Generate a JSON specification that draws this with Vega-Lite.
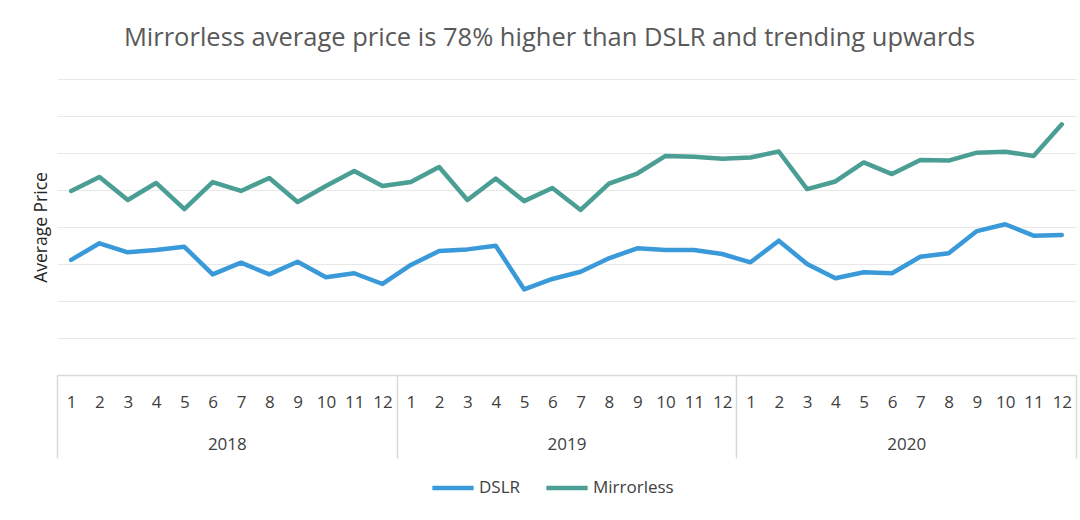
{
  "$schema": "https://vega.github.io/schema/vega-lite/v6.json",
  "width": 1019,
  "height": 296,
  "autosize": {"type": "none"},
  "padding": {"left": 57, "top": 79, "right": 4, "bottom": 145},
  "background": "white",
  "title": {
    "text": "Mirrorless average price is 78% higher than DSLR and trending upwards",
    "font": "Open Sans",
    "fontSize": 25.5,
    "fontWeight": "normal",
    "color": "#595959",
    "anchor": "middle",
    "dx": -17,
    "offset": 28
  },
  "config": {
    "view": {"stroke": null},
    "font": "Open Sans"
  },
  "data": {
    "values": [
      {"period": "2018-01", "year": "2018", "series": "DSLR", "price": 622},
      {"period": "2018-02", "year": "2018", "series": "DSLR", "price": 712},
      {"period": "2018-03", "year": "2018", "series": "DSLR", "price": 663},
      {"period": "2018-04", "year": "2018", "series": "DSLR", "price": 676},
      {"period": "2018-05", "year": "2018", "series": "DSLR", "price": 693},
      {"period": "2018-06", "year": "2018", "series": "DSLR", "price": 544},
      {"period": "2018-07", "year": "2018", "series": "DSLR", "price": 607},
      {"period": "2018-08", "year": "2018", "series": "DSLR", "price": 544},
      {"period": "2018-09", "year": "2018", "series": "DSLR", "price": 612},
      {"period": "2018-10", "year": "2018", "series": "DSLR", "price": 528},
      {"period": "2018-11", "year": "2018", "series": "DSLR", "price": 550},
      {"period": "2018-12", "year": "2018", "series": "DSLR", "price": 492},
      {"period": "2019-01", "year": "2019", "series": "DSLR", "price": 595},
      {"period": "2019-02", "year": "2019", "series": "DSLR", "price": 670},
      {"period": "2019-03", "year": "2019", "series": "DSLR", "price": 679},
      {"period": "2019-04", "year": "2019", "series": "DSLR", "price": 699},
      {"period": "2019-05", "year": "2019", "series": "DSLR", "price": 463},
      {"period": "2019-06", "year": "2019", "series": "DSLR", "price": 519},
      {"period": "2019-07", "year": "2019", "series": "DSLR", "price": 558},
      {"period": "2019-08", "year": "2019", "series": "DSLR", "price": 631},
      {"period": "2019-09", "year": "2019", "series": "DSLR", "price": 685},
      {"period": "2019-10", "year": "2019", "series": "DSLR", "price": 676},
      {"period": "2019-11", "year": "2019", "series": "DSLR", "price": 676},
      {"period": "2019-12", "year": "2019", "series": "DSLR", "price": 654},
      {"period": "2020-01", "year": "2020", "series": "DSLR", "price": 609},
      {"period": "2020-02", "year": "2020", "series": "DSLR", "price": 726},
      {"period": "2020-03", "year": "2020", "series": "DSLR", "price": 600},
      {"period": "2020-04", "year": "2020", "series": "DSLR", "price": 523},
      {"period": "2020-05", "year": "2020", "series": "DSLR", "price": 555},
      {"period": "2020-06", "year": "2020", "series": "DSLR", "price": 550},
      {"period": "2020-07", "year": "2020", "series": "DSLR", "price": 639},
      {"period": "2020-08", "year": "2020", "series": "DSLR", "price": 658},
      {"period": "2020-09", "year": "2020", "series": "DSLR", "price": 778},
      {"period": "2020-10", "year": "2020", "series": "DSLR", "price": 815},
      {"period": "2020-11", "year": "2020", "series": "DSLR", "price": 753},
      {"period": "2020-12", "year": "2020", "series": "DSLR", "price": 757},
      {"period": "2018-01", "year": "2018", "series": "Mirrorless", "price": 995},
      {"period": "2018-02", "year": "2018", "series": "Mirrorless", "price": 1070},
      {"period": "2018-03", "year": "2018", "series": "Mirrorless", "price": 946},
      {"period": "2018-04", "year": "2018", "series": "Mirrorless", "price": 1038},
      {"period": "2018-05", "year": "2018", "series": "Mirrorless", "price": 897},
      {"period": "2018-06", "year": "2018", "series": "Mirrorless", "price": 1043},
      {"period": "2018-07", "year": "2018", "series": "Mirrorless", "price": 995},
      {"period": "2018-08", "year": "2018", "series": "Mirrorless", "price": 1065},
      {"period": "2018-09", "year": "2018", "series": "Mirrorless", "price": 935},
      {"period": "2018-10", "year": "2018", "series": "Mirrorless", "price": 1022},
      {"period": "2018-11", "year": "2018", "series": "Mirrorless", "price": 1103},
      {"period": "2018-12", "year": "2018", "series": "Mirrorless", "price": 1022},
      {"period": "2019-01", "year": "2019", "series": "Mirrorless", "price": 1043},
      {"period": "2019-02", "year": "2019", "series": "Mirrorless", "price": 1124},
      {"period": "2019-03", "year": "2019", "series": "Mirrorless", "price": 946},
      {"period": "2019-04", "year": "2019", "series": "Mirrorless", "price": 1062},
      {"period": "2019-05", "year": "2019", "series": "Mirrorless", "price": 940},
      {"period": "2019-06", "year": "2019", "series": "Mirrorless", "price": 1011},
      {"period": "2019-07", "year": "2019", "series": "Mirrorless", "price": 892},
      {"period": "2019-08", "year": "2019", "series": "Mirrorless", "price": 1035},
      {"period": "2019-09", "year": "2019", "series": "Mirrorless", "price": 1089},
      {"period": "2019-10", "year": "2019", "series": "Mirrorless", "price": 1184},
      {"period": "2019-11", "year": "2019", "series": "Mirrorless", "price": 1180},
      {"period": "2019-12", "year": "2019", "series": "Mirrorless", "price": 1169},
      {"period": "2020-01", "year": "2020", "series": "Mirrorless", "price": 1176},
      {"period": "2020-02", "year": "2020", "series": "Mirrorless", "price": 1208},
      {"period": "2020-03", "year": "2020", "series": "Mirrorless", "price": 1005},
      {"period": "2020-04", "year": "2020", "series": "Mirrorless", "price": 1046},
      {"period": "2020-05", "year": "2020", "series": "Mirrorless", "price": 1149},
      {"period": "2020-06", "year": "2020", "series": "Mirrorless", "price": 1086},
      {"period": "2020-07", "year": "2020", "series": "Mirrorless", "price": 1162},
      {"period": "2020-08", "year": "2020", "series": "Mirrorless", "price": 1159},
      {"period": "2020-09", "year": "2020", "series": "Mirrorless", "price": 1202},
      {"period": "2020-10", "year": "2020", "series": "Mirrorless", "price": 1207},
      {"period": "2020-11", "year": "2020", "series": "Mirrorless", "price": 1184},
      {"period": "2020-12", "year": "2020", "series": "Mirrorless", "price": 1355}
    ]
  },
  "layer": [
    {
      "mark": {"type": "line", "strokeWidth": 4.5, "strokeJoin": "round", "strokeCap": "round"},
      "encoding": {
        "x": {
          "field": "period",
          "type": "ordinal",
          "scale": {"type": "point", "padding": 0.5},
          "axis": {
            "orient": "bottom",
            "title": null,
            "labelExpr": "toNumber(split(datum.value, '-')[1])",
            "labelAngle": 0,
            "labelFont": "Open Sans",
            "labelFontSize": 17,
            "labelColor": "#404040",
            "labelPadding": 19,
            "ticks": false,
            "tickSize": 0,
            "domain": true,
            "domainColor": "#d9d9d9",
            "domainWidth": 1.5,
            "grid": false
          }
        },
        "y": {
          "field": "price",
          "type": "quantitative",
          "scale": {"domain": [0, 1600]},
          "axis": {
            "title": "Average Price",
            "titleFont": "Open Sans",
            "titleFontSize": 17.5,
            "titleFontWeight": "normal",
            "titleColor": "#262626",
            "titlePadding": 7,
            "values": [0, 200, 400, 600, 800, 1000, 1200, 1400, 1600],
            "labels": false,
            "ticks": false,
            "domain": false,
            "grid": true,
            "gridColor": "#e8e8e8",
            "gridWidth": 1
          }
        },
        "color": {
          "field": "series",
          "type": "nominal",
          "scale": {"domain": ["DSLR", "Mirrorless"], "range": ["#3a9ad9", "#4a9e94"]},
          "legend": {
            "title": null,
            "orient": "none",
            "direction": "horizontal",
            "legendX": 373,
            "legendY": 386,
            "symbolType": "stroke",
            "symbolSize": 1700,
            "symbolStrokeWidth": 4.5,
            "labelFont": "Open Sans",
            "labelFontSize": 17,
            "labelColor": "#404040",
            "labelOffset": 3,
            "columnPadding": 16,
            "padding": 0
          }
        }
      }
    },
    {
      "mark": {"type": "rect", "opacity": 0},
      "encoding": {
        "x": {
          "field": "year",
          "type": "ordinal",
          "scale": {"type": "band", "paddingInner": 0, "paddingOuter": 0},
          "axis": {
            "orient": "bottom",
            "title": null,
            "labelAngle": 0,
            "labelFont": "Open Sans",
            "labelFontSize": 17,
            "labelColor": "#404040",
            "tickBand": "extent",
            "tickSize": 83,
            "tickColor": "#d9d9d9",
            "tickWidth": 1.5,
            "labelPadding": -22,
            "domain": false,
            "grid": false
          }
        }
      }
    }
  ],
  "resolve": {"scale": {"x": "independent"}, "axis": {"x": "independent"}}
}
